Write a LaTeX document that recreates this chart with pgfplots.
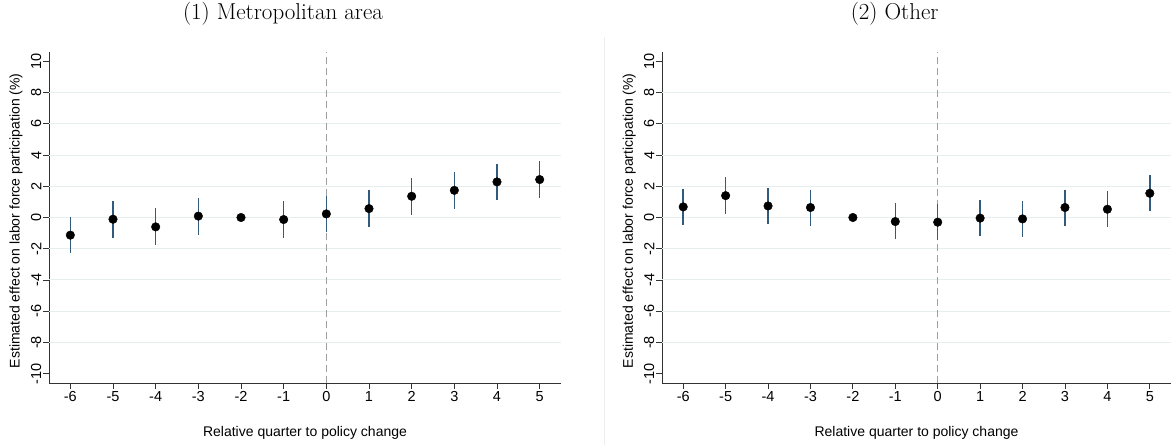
\documentclass[border=0pt]{standalone}
\usepackage{fontspec}
\setsansfont{Liberation Sans}
\usepackage{pgfplots}
\pgfplotsset{compat=1.18}
\usepackage{pgfplotstable}
\definecolor{navy}{HTML}{1A476F}
\definecolor{gridc}{HTML}{E6EEF0}

\pgfplotstableread{
x y ep em
-6 -1.13 1.17 1.17
-5 -0.11 1.19 1.19
-4 -0.60 1.20 1.17
-3 0.09 1.17 1.18
-2 0.00 0 0
-1 -0.13 1.17 1.17
0 0.23 1.15 1.14
1 0.57 1.17 1.17
2 1.36 1.17 1.17
3 1.74 1.17 1.19
4 2.28 1.17 1.18
5 2.43 1.17 1.17
}\metro

\pgfplotstableread{
x y ep em
-6 0.68 1.17 1.19
-5 1.40 1.17 1.17
-4 0.74 1.17 1.17
-3 0.64 1.15 1.17
-2 0.00 0 0
-1 -0.26 1.17 1.14
0 -0.30 1.15 1.15
1 -0.04 1.14 1.15
2 -0.09 1.15 1.14
3 0.64 1.15 1.17
4 0.53 1.15 1.15
5 1.55 1.15 1.12
}\other

\pgfplotsset{
  myaxis/.style={
    scale only axis, height=331pt,
    xmin=-6.5, xmax=5.5, ymin=-10.6, ymax=10.6,
    axis lines*=left, axis line style={-, black!80, line width=0.8pt},
    xtick={-6,...,5},
    xticklabels={-6,-5,-4,-3,-2,-1,0,1,2,3,4,5},
    ytick={-10,-8,...,10},
    yticklabels={-10,-8,-6,-4,-2,0,2,4,6,8,10},
    tick align=outside, major tick length=6pt,
    tick style={black!80, line width=0.8pt},
    extra y ticks={-8,-6,-4,-2,0,2,4,6,8},
    extra y tick labels={},
    extra y tick style={grid=major, major tick length=0pt, grid style={gridc, line width=1pt}},
    tick label style={font=\sffamily\fontsize{14.5}{15}\selectfont},
    xticklabel style={inner sep=2pt},
    yticklabel style={rotate=90, anchor=south, inner sep=1.5pt},
    label style={font=\sffamily\fontsize{14}{15}\selectfont},
    xlabel={Relative quarter to policy change},
    xlabel style={at={(axis description cs:0.5,0)}, yshift=-50pt, anchor=center},
    ylabel={Estimated effect on labor force participation (\%)},
    ylabel style={at={(axis description cs:-0.0645,0.49)}, anchor=center},
    title style={at={(axis description cs:0.457,1.097)}, anchor=center, font=\fontsize{23}{24}\selectfont},
    clip=false,
  },
  ptstyle/.style={only marks, mark=*, mark size=4.3pt, black,
    error bars/.cd, y dir=both, y explicit, error mark=none,
    error bar style={navy!90, line width=1.5pt}},
  vline/.style={gray!75, dash pattern=on 7pt off 4pt, line width=1.3pt},
}

\begin{document}
\begin{tikzpicture}
\path[use as bounding box] (0,0) rectangle (1174pt,445pt);
\draw[black!7, line width=0.8pt] (604pt,0) -- (604pt,408pt);
\begin{axis}[myaxis, width=512pt, at={(49pt,62pt)}, anchor=south west,
  title={(1) Metropolitan area}]
\addplot[vline] coordinates {(0,-10.6) (0,10.6)};
\addplot[ptstyle] table[x=x, y=y, y error plus=ep, y error minus=em] {\metro};
\end{axis}
\begin{axis}[myaxis, width=509pt, at={(662pt,62pt)}, anchor=south west,
  title={(2) Other}]
\addplot[vline] coordinates {(0,-10.6) (0,10.6)};
\addplot[ptstyle] table[x=x, y=y, y error plus=ep, y error minus=em] {\other};
\end{axis}
\end{tikzpicture}
\end{document}
